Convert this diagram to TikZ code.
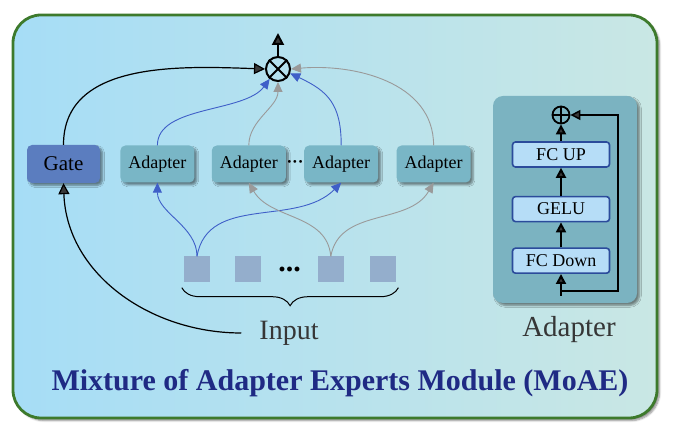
\documentclass[tikz,border=0pt]{standalone}
\usepackage{fontspec}
\setmainfont{Liberation Serif}
\usepackage{xcolor}
\usetikzlibrary{arrows.meta,positioning,calc,shadows.blur,decorations.pathreplacing}
\definecolor{bgleft}{HTML}{A6DDF6}
\definecolor{bgright}{HTML}{C9E7E4}
\definecolor{framegreen}{HTML}{3D7A2C}
\definecolor{gatefill}{HTML}{5B7DBF}
\definecolor{adapterfill}{HTML}{79B6C6}
\definecolor{panelfill}{HTML}{7BB3C1}
\definecolor{layerfill}{HTML}{B6DDF7}
\definecolor{layerdraw}{HTML}{2B4B9B}
\definecolor{tokenfill}{HTML}{94AECC}
\definecolor{routeblue}{HTML}{3F5FC8}
\definecolor{routegray}{HTML}{9A9A9A}
\definecolor{titleblue}{HTML}{1F2A84}
\definecolor{labelgray}{HTML}{363636}
\tikzset{
  base/.style={align=center, text=black, inner sep=0pt},
  shade box/.style={blur shadow={shadow xshift=2.5pt, shadow yshift=-2.5pt, shadow blur steps=6, shadow opacity=45}},
  gatebox/.style={base, shade box, rectangle, rounded corners=5pt, fill=gatefill, minimum width=73pt, minimum height=38pt, font=\fontsize{21}{24}\selectfont},
  expert/.style={base, shade box, rectangle, rounded corners=5pt, fill=adapterfill, minimum width=74pt, minimum height=37pt, font=\fontsize{18}{21}\selectfont},
  token/.style={rectangle, fill=tokenfill, minimum width=26pt, minimum height=26pt, inner sep=0pt},
  layer/.style={base, rectangle, rounded corners=3pt, draw=layerdraw, line width=1.6pt, fill=layerfill, minimum width=97pt, minimum height=25pt, font=\fontsize{18}{21}\selectfont},
  op/.style={circle, draw=black, inner sep=0pt},
  gateline/.style={-{Triangle[length=11pt,width=11pt]}, line width=1.2pt},
  blueline/.style={-{Triangle[length=10pt,width=9pt]}, draw=routeblue, line width=0.9pt},
  grayline/.style={-{Triangle[length=10pt,width=9pt]}, draw=routegray, line width=0.9pt},
  flow/.style={-{Triangle[length=10pt,width=10pt]}, line width=2pt},
  brace/.style={decorate, decoration={brace, amplitude=18pt}, line width=1pt},
  caption_text/.style={text=labelgray, inner sep=0pt, font=\fontsize{28}{32}\selectfont}
}
\begin{document}
\begin{tikzpicture}[x=1pt, y=1pt, node distance=18pt and 18pt]
  \useasboundingbox (0,0) rectangle (674,436);
  % Outer frame
  \path[draw=framegreen, line width=2.8pt, rounded corners=28pt, left color=bgleft, right color=bgright, shade box] (13,18) rectangle (657,421);

  % Gate and experts
  \node[gatebox] (gate) at (63.5,272) {Gate};
  \node[expert, right=20pt of gate] (ad1) {Adapter};
  \node[expert, right=17pt of ad1] (ad2) {Adapter};
  \node[expert, right=18pt of ad2] (ad3) {Adapter};
  \node[expert, right=18pt of ad3] (ad4) {Adapter};
  \node[inner sep=0pt, font=\fontsize{17}{17}\selectfont\bfseries] (addots) at ($(ad2.east)!0.5!(ad3.west)$) {···};

  % Weighted sum
  \node[op, line width=2pt, minimum size=24pt] (mul) at (278,367) {};
  \draw[line width=2pt] (mul.north west) -- (mul.south east) (mul.north east) -- (mul.south west);
  \coordinate (out) at (278,403);
  \draw[flow, -{Triangle[length=12pt,width=12pt]}] (mul.north) -- (out);

  % Input tokens
  \node[token] (tk1) at (197,166.5) {};
  \node[token, right=25pt of tk1] (tk2) {};
  \node[token, right=56pt of tk2] (tk3) {};
  \node[token, right=26pt of tk3] (tk4) {};
  \node[anchor=base, inner sep=0pt, font=\fontsize{30}{30}\selectfont\bfseries] (tkdots) at ($(tk2.east)!0.5!(tk3.west)+(0,-2)$) {...};
  \draw[brace] ([xshift=2pt,yshift=-5pt]tk4.south east) -- ([xshift=-2pt,yshift=-5pt]tk1.south west);
  \node[caption_text] (input) at (289,103) {Input};

  % Routing
  \draw[gateline] (gate.north) to[out=90, in=178] (mul.west);
  \draw[gateline] ([xshift=-18pt]input.west) to[out=180, in=-88] (gate.south);
  \draw[blueline] (ad1.north) .. controls +(0,40) and +(-25,-34) .. (mul.-130);
  \draw[grayline] (ad2.north) .. controls +(0,25) and +(0,-25) .. (mul.south);
  \draw[blueline] (ad3.north) to[out=90, in=-25, looseness=1.2] (mul.-20);
  \draw[grayline] (ad4.north) to[out=90, in=5] (mul.east);
  \draw[blueline] (tk1.north) .. controls +(0,30) and +(0,-30) .. (ad1.south);
  \draw[blueline] (tk1.north) to[out=80, in=-135] (ad3.south);
  \draw[grayline] (tk3.north) to[out=95, in=-60] (ad2.south);
  \draw[grayline] (tk3.north) to[out=80, in=-120] (ad4.south);

  % Adapter detail
  \node[shade box, rectangle, rounded corners=10pt, fill=panelfill, minimum width=144pt, minimum height=207pt] (panel) at (565,236.5) {};
  \node[layer] (fcup) at (561,281.5) {FC UP};
  \node[layer, below=28pt of fcup] (gelu) {GELU};
  \node[layer, below=25pt of gelu] (fcdown) {FC Down};
  \node[op, line width=1.8pt, minimum size=17pt] (add) at (561,321) {};
  \draw[line width=1.8pt] (add.north) -- (add.south) (add.west) -- (add.east);
  \coordinate[below=22pt of fcdown] (adin);
  \coordinate[below=17pt of fcdown] (skip);
  \draw[flow] (adin) -- (fcdown);
  \draw[flow] (fcdown) -- (gelu);
  \draw[flow] (gelu) -- (fcup);
  \draw[flow] (fcup) -- (add);
  \draw[flow, line width=1.5pt] (skip) -- ++(57,0) |- (add.east);
  \node[caption_text, font=\fontsize{29}{32}\selectfont] (adlabel) at (569,106) {Adapter};

  % Title
  \node[inner sep=0pt, font=\fontsize{30}{34}\selectfont\bfseries, text=titleblue] (title) at (340,53) {Mixture of Adapter Experts Module (MoAE)};
\end{tikzpicture}
\end{document}
